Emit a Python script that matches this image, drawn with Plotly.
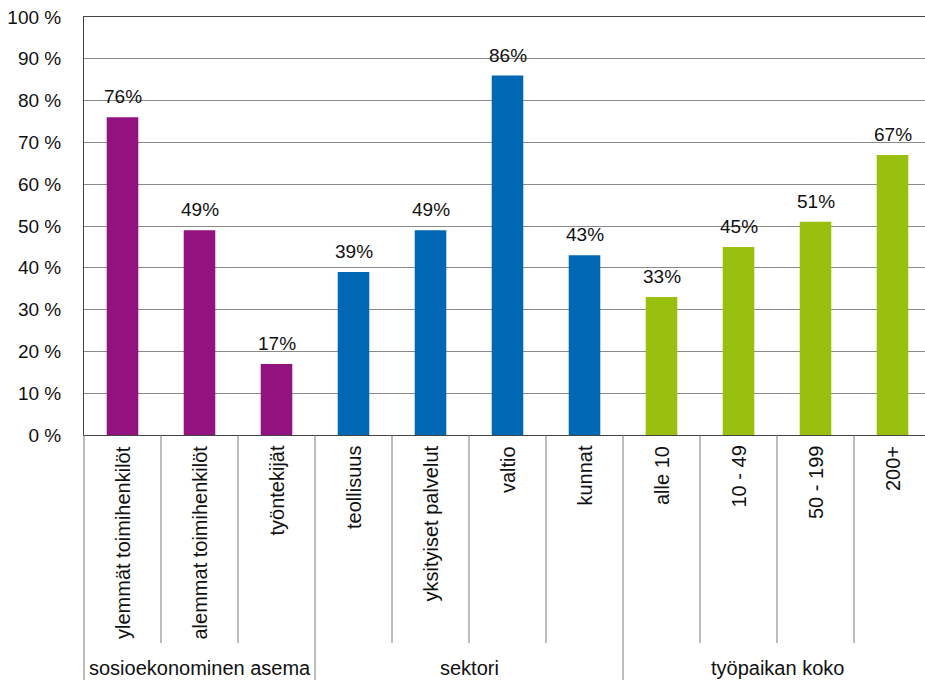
import plotly.graph_objects as go

# data
categories = ["ylemmät toimihenkilöt", "alemmat toimihenkilöt", "työntekijät",
              "teollisuus", "yksityiset palvelut", "valtio", "kunnat",
              "alle 10", "10 - 49", "50 - 199", "200+"]
values = [76, 49, 17, 39, 49, 86, 43, 33, 45, 51, 67]
groups = ["sosioekonominen asema", "sektori", "työpaikan koko"]
group_sizes = [3, 4, 4]
group_colors = ["#92137F", "#0067B3", "#99BF0F"]
y_ticks = [0, 10, 20, 30, 40, 50, 60, 70, 80, 90, 100]
y_ticktext = [f"{v} %" for v in y_ticks]

FONT = "Liberation Sans"
# the plot area runs slightly past the right edge of the window, as in the original
W, H = 931, 680
ML, MT, MB = 84, 17, 245
plot_h = H - MT - MB
n = len(categories)

colors = []
for c, s in zip(group_colors, group_sizes):
    colors += [c] * s

fig = go.Figure(go.Bar(
    x=list(range(n)), y=values, width=0.41,
    marker=dict(color=colors, line=dict(width=0)),
    hoverinfo="skip",
))

# value labels above bars
for i, v in enumerate(values):
    fig.add_annotation(x=i, y=v, xref="x", yref="y", text=f"{v}%",
                       showarrow=False, yanchor="bottom", yshift=8,
                       font=dict(family=FONT, size=19, color="#111"))

# rotated category labels
for i, c in enumerate(categories):
    fig.add_annotation(x=i, y=-9 / plot_h, xref="x", yref="paper", text=c,
                       textangle=-90, showarrow=False, yanchor="top",
                       xanchor="center",
                       font=dict(family=FONT, size=20, color="#111"))

# separators and group labels
line_col = "#7a7a7a"
inner_bottom = -208 / plot_h
outer_bottom = -MB / plot_h
start = 0
bounds = [0]
for g, s in zip(groups, group_sizes):
    fig.add_annotation(x=(start + s / 2) / n, y=-233 / plot_h,
                       xref="paper", yref="paper", text=g, showarrow=False,
                       xanchor="center", yanchor="middle",
                       font=dict(family=FONT, size=20, color="#111"))
    start += s
    bounds.append(start)

for k in range(n):
    y1 = outer_bottom if k in bounds else inner_bottom
    fig.add_shape(type="line", xref="paper", yref="paper",
                  x0=k / n, x1=k / n, y0=0, y1=y1,
                  line=dict(color=line_col, width=1))

fig.update_layout(
    width=W, height=H, autosize=False,
    margin=dict(l=ML, r=0, t=MT, b=MB),
    paper_bgcolor="white", plot_bgcolor="white",
    showlegend=False,
    font=dict(family=FONT, size=19, color="#111"),
    xaxis=dict(range=[-0.5, n - 0.5], showticklabels=False, showgrid=False,
               zeroline=False, showline=True, mirror=True,
               linecolor="#444", linewidth=1, fixedrange=True),
    yaxis=dict(range=[0, 100], tickvals=y_ticks, ticktext=y_ticktext,
               showgrid=True, gridcolor="#8a8a8a", gridwidth=1,
               zeroline=False, showline=True, linecolor="#444", linewidth=1,
               ticks="", ticklabelstandoff=18, ticklabeloverflow="allow",
               tickfont=dict(family=FONT, size=19, color="#111"),
               fixedrange=True),
)

# drop the default body margin so the chart sits at the window corner
post = ("document.body.style.margin='0';"
        "document.body.style.overflow='hidden';"
        "Plotly.relayout(document.getElementById('{plot_id}'),"
        " {width: %d, height: %d});" % (W, H))

fig.write_html("out.html", post_script=post,
               config={"responsive": False, "displayModeBar": False})
